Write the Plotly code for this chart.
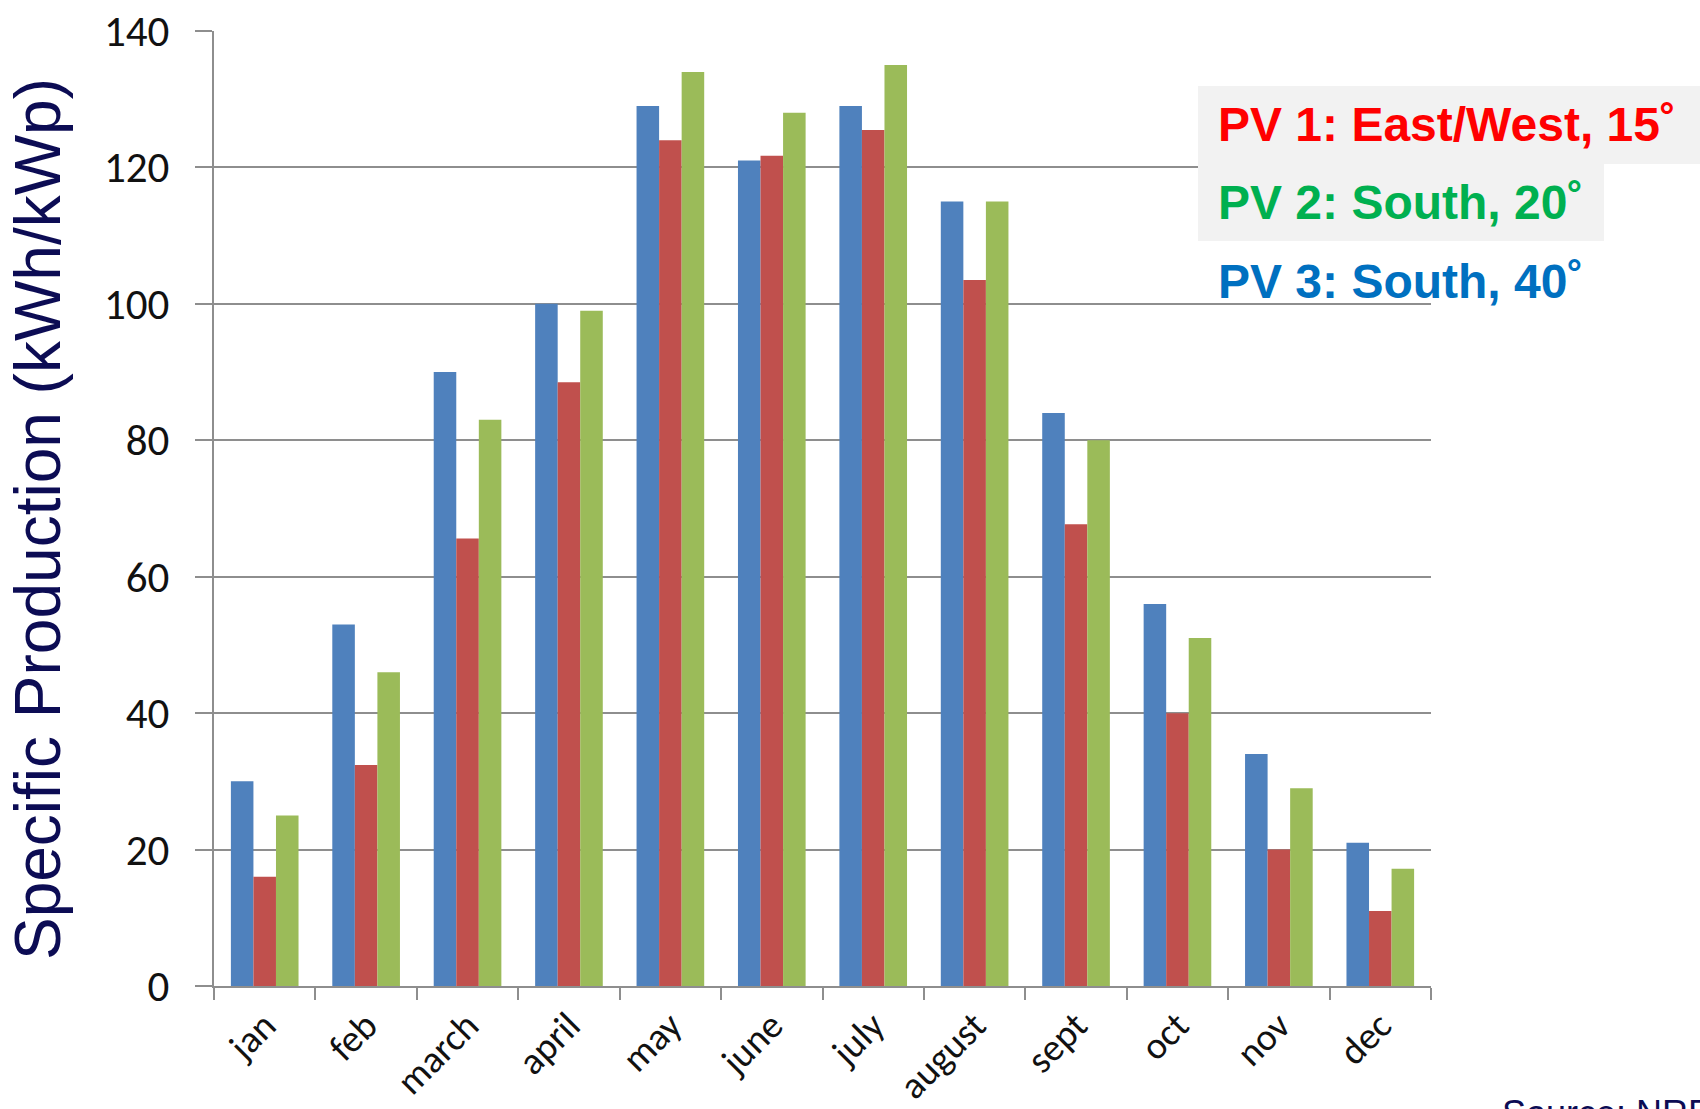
import plotly.graph_objects as go

# Monthly specific production (kWh/kWp) for three PV orientations
months = ["jan", "feb", "march", "april", "may", "june",
          "july", "august", "sept", "oct", "nov", "dec"]
pv3_south_40 = [30, 53, 90, 100, 129, 121, 129, 115, 84, 56, 34, 21]
pv1_east_west_15 = [16, 32.4, 65.6, 88.5, 124, 121.7, 125.5, 103.5, 67.7, 40, 20, 11]
pv2_south_20 = [25, 46, 83, 99, 134, 128, 135, 115, 80, 51, 29, 17.2]

series_names = ["PV 3: South, 40˚", "PV 1: East/West, 15˚", "PV 2: South, 20˚"]
bar_colors = ["#4F81BD", "#C0504D", "#9BBB59"]

y_ticks = [0, 20, 40, 60, 80, 100, 120, 140]

W, H = 1700, 1109
L, R, T, B = 214, 1431, 31, 986   # plot area edges in pixels

fig = go.Figure()
for name, vals, col in zip(series_names,
                           [pv3_south_40, pv1_east_west_15, pv2_south_20],
                           bar_colors):
    fig.add_trace(go.Bar(x=months, y=vals, name=name,
                         marker=dict(color=col, line=dict(width=0))))


def px_x(p):
    return (p - L) / (R - L)


def px_y(p):
    return (B - p) / (B - T)


axis_grey = "#8E8E8E"
label_family = "Carlito, Lato, sans-serif"

fig.update_layout(
    width=W, height=H,
    margin=dict(l=L, r=W - R, t=T, b=H - B, pad=0, autoexpand=False),
    paper_bgcolor="white", plot_bgcolor="white",
    barmode="group", bargap=0.333, bargroupgap=0,
    showlegend=False,
    xaxis=dict(
        type="category", tickangle=-45, automargin=False,
        tickfont=dict(family=label_family, size=38, color="#111111"),
        ticks="outside", tickson="boundaries", ticklen=12,
        tickcolor=axis_grey, tickwidth=2, ticklabelstandoff=0,
        showline=True, linecolor=axis_grey, linewidth=2,
        showgrid=False,
    ),
    yaxis=dict(
        range=[0, 140], tickvals=y_ticks, automargin=False,
        tickfont=dict(family=label_family, size=43, color="#111111"),
        ticks="outside", ticklen=17, tickcolor=axis_grey, tickwidth=2,
        showline=True, linecolor=axis_grey, linewidth=2,
        showgrid=True, gridcolor=axis_grey, gridwidth=2,
        zeroline=False, ticklabelstandoff=17,
    ),
)

# Axis title, drawn vertically along the left edge
fig.add_annotation(
    text="Specific Production (kWh/kWp)", textangle=-90,
    xref="paper", yref="paper", x=px_x(38), y=px_y(519),
    xanchor="center", yanchor="middle", showarrow=False,
    font=dict(family="Liberation Sans, Arial, sans-serif", size=64, color="#0C0C54"),
)

# Key boxes behind the orientation labels
fig.add_shape(type="rect", xref="paper", yref="paper", layer="above",
              x0=px_x(1198), x1=px_x(1720), y0=px_y(86), y1=px_y(164),
              fillcolor="#F2F2F2", line=dict(width=0))
fig.add_shape(type="rect", xref="paper", yref="paper", layer="above",
              x0=px_x(1198), x1=px_x(1604), y0=px_y(164), y1=px_y(241),
              fillcolor="#F2F2F2", line=dict(width=0))

key_labels = ["PV 1: East/West, 15˚", "PV 2: South, 20˚", "PV 3: South, 40˚"]
key_colors = ["#FF0000", "#00B050", "#0070C0"]
key_y = [125, 202, 281]
for txt, col, yy in zip(key_labels, key_colors, key_y):
    fig.add_annotation(
        text=f"<b>{txt}</b>", xref="paper", yref="paper",
        x=px_x(1216), y=px_y(yy), xanchor="left", yanchor="middle",
        showarrow=False,
        font=dict(family="Liberation Sans, Arial, sans-serif", size=48, color=col),
    )

fig.add_annotation(
    text="Source: NREL", xref="paper", yref="paper",
    x=px_x(1500), y=px_y(1091), xanchor="left", yanchor="top",
    showarrow=False,
    font=dict(family="Liberation Sans, Arial, sans-serif", size=36, color="#0C0C54"),
)

fig.write_html("out.html")
